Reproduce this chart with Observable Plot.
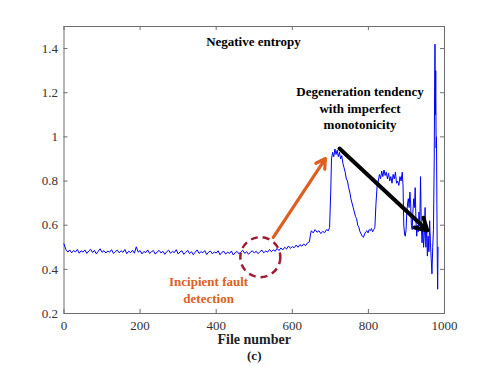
<!DOCTYPE html>
<html>
<head>
<meta charset="utf-8">
<script src="https://cdn.jsdelivr.net/npm/d3@7"></script>
<script src="https://cdn.jsdelivr.net/npm/@observablehq/plot@0.6"></script>
<style>
  html, body { margin: 0; padding: 0; background: #fff; }
  #chart svg, #chart svg text { font-family: "Liberation Serif", "Times New Roman", Times, "DejaVu Serif", serif !important; }
</style>
</head>
<body>
<div id="chart"></div>
<script>
// Baseline segment: file numbers 0..645 sampled every 5 files
const baseStep = 5;
const baseValues = [
  0.515,0.49,0.478,0.488,0.475,0.485,0.479,0.49,0.473,0.484,
  0.478,0.488,0.472,0.483,0.491,0.476,0.486,0.47,0.482,0.493,
  0.477,0.485,0.474,0.483,0.478,0.489,0.472,0.481,0.487,0.475,
  0.484,0.477,0.49,0.471,0.482,0.476,0.486,0.473,0.502,0.478,
  0.485,0.47,0.481,0.476,0.488,0.472,0.48,0.485,0.469,0.479,
  0.486,0.474,0.482,0.468,0.48,0.487,0.473,0.481,0.476,0.489,
  0.47,0.479,0.484,0.468,0.477,0.486,0.471,0.48,0.466,0.478,
  0.488,0.472,0.48,0.475,0.485,0.467,0.478,0.483,0.47,0.479,
  0.474,0.484,0.466,0.477,0.482,0.469,0.478,0.472,0.483,0.465,
  0.476,0.481,0.47,0.479,0.486,0.472,0.48,0.468,0.478,0.484,
  0.474,0.482,0.471,0.48,0.487,0.475,0.483,0.478,0.49,0.48,
  0.488,0.482,0.495,0.485,0.497,0.488,0.5,0.492,0.506,0.495,
  0.503,0.498,0.51,0.5,0.512,0.505,0.515,0.507,0.52,0.525
];
// Later segment: explicit file numbers and values
const lateFiles = [
  648,650,655,660,665,670,675,680,685,690,695,698,701,703,706,709,712,715,718,721,
  724,727,730,733,736,739,742,745,748,751,754,757,760,763,766,769,772,775,778,781,
  784,787,790,793,796,799,802,805,808,811,814,817,820,823,826,829,832,835,838,841,
  844,847,850,853,856,859,862,865,868,871,874,877,880,883,886,889,891,893,895,897,
  899,901,903,905,907,909,911,913,915,917,919,921,923,925,927,929,931,933,935,937,
  939,941,943,945,947,949,951,953,955,957,959,961,963,965,967,969,971,973,974,975,
  976,977,978,979,980,981,982,983
];
const lateValues = [
  0.56,0.575,0.565,0.58,0.568,0.575,0.562,0.572,0.566,0.58,0.575,0.59,0.75,0.9,0.93,0.91,0.945,0.92,0.94,0.91,
  0.93,0.9,0.915,0.88,0.86,0.84,0.81,0.8,0.77,0.75,0.72,0.7,0.68,0.66,0.64,0.63,0.6,0.59,0.57,0.56,
  0.55,0.545,0.56,0.57,0.575,0.565,0.58,0.575,0.585,0.57,0.58,0.59,0.7,0.78,0.8,0.83,0.81,0.845,0.82,0.85,
  0.825,0.84,0.81,0.835,0.8,0.82,0.79,0.83,0.81,0.84,0.79,0.8,0.78,0.82,0.8,0.84,0.78,0.6,0.56,0.55,
  0.58,0.66,0.7,0.72,0.68,0.75,0.7,0.6,0.58,0.66,0.72,0.68,0.77,0.62,0.55,0.6,0.57,0.66,0.6,0.82,
  0.6,0.52,0.6,0.5,0.56,0.68,0.5,0.6,0.46,0.55,0.48,0.62,0.52,0.45,0.38,0.5,0.58,0.9,1.2,1.42,
  1.1,1.3,0.95,1.0,0.7,0.45,0.31,0.5
];
const xTicks = [0, 200, 400, 600, 800, 1000];
const xTickLabels = ["0", "200", "400", "600", "800", "1000"];
const yTicks = [0.2, 0.4, 0.6, 0.8, 1.0, 1.2, 1.4];
const yTickLabels = ["0.2", "0.4", "0.6", "0.8", "1", "1.2", "1.4"];

const series = [
  ...baseValues.map((v, i) => ({file: i * baseStep, value: v})),
  ...lateFiles.map((f, i) => ({file: f, value: lateValues[i]}))
];

const titleText = [{x: 498, y: 1.43, text: "Negative entropy"}];
const degText = [{x: 778, y: 1.134, text: "Degeneration tendency\nwith imperfect\nmonotonicity"}];
const faultText = [{x: 380, y: 0.311, text: "Incipient fault\ndetection"}];
const blackArrow = [{x1: 724, y1: 0.947, x2: 955, y2: 0.576}];
const orangeArrow = [{x1: 550, y1: 0.545, x2: 687, y2: 0.902}];
const circle = [{x: 516, y: 0.455}];

const tickLenX = 10.5;   // inward tick length in x units
const tickLenY = 0.018;  // inward tick length in y units
const axisColor = "#6e6e6e";
const serif = "Liberation Serif, Times New Roman, Times, DejaVu Serif, serif";

const chart = Plot.plot({
  width: 491,
  height: 367,
  marginLeft: 63.5,
  marginRight: 47,
  marginTop: 26,
  marginBottom: 54,
  style: {fontSize: "13px", background: "#fff"},
  x: {domain: [0, 1000]},
  y: {domain: [0.2, 1.5]},
  marks: [
    Plot.axisX({ticks: xTicks, tickFormat: (d, i) => xTickLabels[i], tickSize: 0, tickPadding: 7, fontSize: 13, label: null, color: "#333"}),
    Plot.axisY({ticks: yTicks, tickFormat: (d, i) => yTickLabels[i], tickSize: 0, tickPadding: 6, fontSize: 13, label: null, color: "#333"}),
    Plot.ruleX(xTicks, {x: d => d, y1: 0.2, y2: 0.2 + tickLenY, stroke: axisColor}),
    Plot.ruleX(xTicks, {x: d => d, y1: 1.5, y2: 1.5 - tickLenY, stroke: axisColor}),
    Plot.ruleY(yTicks, {y: d => d, x1: 0, x2: tickLenX, stroke: axisColor}),
    Plot.ruleY(yTicks, {y: d => d, x1: 1000, x2: 1000 - tickLenX, stroke: axisColor}),
    Plot.frame({stroke: axisColor, strokeWidth: 1}),
    Plot.line(series, {x: "file", y: "value", stroke: "#0000ff", strokeWidth: 1}),
    Plot.arrow(blackArrow, {x1: "x1", y1: "y1", x2: "x2", y2: "y2", stroke: "black", strokeWidth: 4, headLength: 5, bend: 0}),
    Plot.arrow(orangeArrow, {x1: "x1", y1: "y1", x2: "x2", y2: "y2", stroke: "#de5f22", strokeWidth: 3.2, headLength: 5, bend: 0}),
    Plot.dot(circle, {x: "x", y: "y", r: 20, stroke: "#9e1b32", strokeWidth: 2.5, strokeDasharray: "7,5", fill: "none"}),
    Plot.text(titleText, {x: "x", y: "y", text: "text", fontWeight: "bold", fontSize: 13, fill: "black"}),
    Plot.text(degText, {x: "x", y: "y", text: "text", fontWeight: "bold", fontSize: 13, lineHeight: 1.28, fill: "black"}),
    Plot.text(faultText, {x: "x", y: "y", text: "text", fontWeight: "bold", fontSize: 13, lineHeight: 1.28, fill: "#de5f22"}),
    Plot.text(["File number"], {frameAnchor: "bottom", dy: 30, fontWeight: "bold", fontSize: 14, fill: "#222"}),
    Plot.text(["(c)"], {frameAnchor: "bottom", dy: 46.5, fontWeight: "bold", fontSize: 13, fill: "#222"})
  ]
});
chart.setAttribute("font-family", serif);
chart.querySelectorAll("text, g").forEach(el => { if (el.hasAttribute("font-family")) el.setAttribute("font-family", serif); });
document.getElementById("chart").appendChild(chart);
</script>
</body>
</html>
